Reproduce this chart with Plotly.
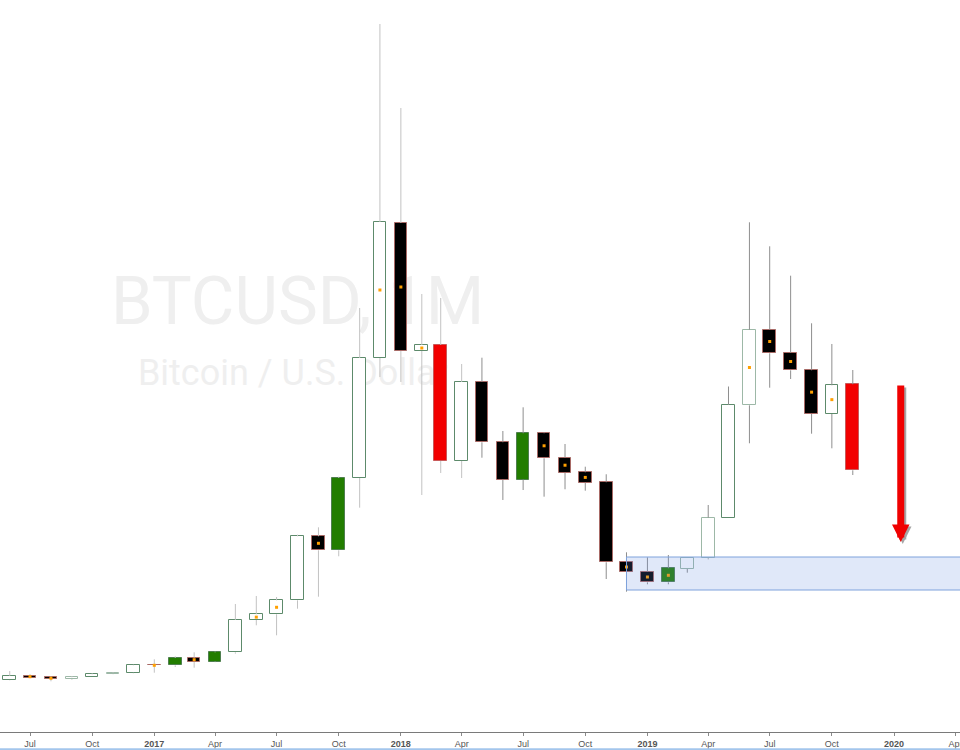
import pandas as pd
import plotly.graph_objects as go

# ---------------- data (monthly BTCUSD candles) ----------------
months = pd.date_range("2016-06-01", periods=42, freq="MS")

open_ = [430, 555, 507, 449, 507, 590, 640,
         862, 859, 1082, 965, 1240, 2188, 2355, 2765, 4642, 4232, 6352, 9871,
         13830, 10076, 10252, 6851, 9167, 7399, 6302, 7663, 6947, 6519, 6226, 3880,
         3604, 3293, 3683, 3997, 5170, 8484, 10701, 10026, 9510, 8229, 9100]
high = [690, 600, 537, 545, 625, 663, 877,
        1035, 1123, 1240, 1258, 2657, 2892, 2862, 4689, 4906, 6390, 11337, 19666,
        17203, 11748, 11631, 9695, 9880, 7730, 8425, 7692, 7349, 6683, 6461, 4173,
        4026, 4094, 4015, 5560, 9035, 13851, 13147, 12285, 10889, 10282, 9519]
low = [420, 480, 390, 428, 507, 584, 625,
       642, 809, 789, 950, 1200, 2032, 1739, 2519, 2871, 4056, 5481, 9314,
       9168, 5853, 6499, 6352, 6947, 5707, 6000, 5804, 6021, 5980, 3390, 3018,
       3235, 3235, 3575, 3968, 5170, 7370, 9000, 9255, 7651, 7223, 6440]
close = [550, 495, 449, 507, 595, 640, 859,
         856, 1073, 965, 1240, 2188, 2355, 2765, 4642, 4232, 6352, 9871, 13859,
         10076, 10252, 6851, 9167, 7399, 6302, 7663, 6930, 6507, 6220, 3880, 3604,
         3293, 3704, 4015, 5188, 8493, 10701, 10009, 9510, 8229, 9071, 6578]

# candle colouring used by the source chart's bar-colour script
candle_kind = ["w", "k", "k", "wl", "w", "wl", "w",
               "k", "g", "k", "g", "w", "w", "w", "w", "k", "g", "w", "w",
               "k", "w", "r", "w", "k", "k", "g", "k", "k", "k", "k", "k",
               "k", "g", "wl", "wl", "w", "wl", "k", "k", "k", "w", "r"]
# orange marker on the candle (1 = shown)
dot_flag = [0, 1, 1, 0, 0, 0, 0,
            1, 0, 1, 0, 0, 1, 1, 0, 1, 0, 0, 1,
            1, 1, 0, 0, 0, 0, 0, 1, 1, 1, 0, 1,
            1, 1, 0, 0, 0, 1, 1, 1, 1, 1, 0]

# support zone and arrow
zone_start = "2018-12-01"
zone_end = "2020-12-01"
zone_low, zone_high = 3067, 4035
arrow_date, arrow_tip_price = "2020-01-11", 4475

# x axis ticks
tick_dates = pd.date_range("2016-07-01", "2020-04-01", freq="3MS")
tick_text = ["Jul", "Oct", "<b>2017</b>", "Apr", "Jul", "Oct", "<b>2018</b>", "Apr",
             "Jul", "Oct", "<b>2019</b>", "Apr", "Jul", "Oct", "<b>2020</b>", "Apr"]

# ---------------- styles ----------------
STYLE = {
    "w": dict(fill="#ffffff", line="#5d8a6b"),
    "wl": dict(fill="#ffffff", line="#9db8a7"),
    "g": dict(fill="#227d00", line="#4f7f4f"),
    "k": dict(fill="#000000", line="#a86a66"),
    "r": dict(fill="#f20000", line="#c85a5a"),
}
BODY_WIDTH_MS = 18.7 * 86400000

fig = go.Figure()

# wicks (two tones), split into upper and lower parts so they never cross a body
split = 23
for lo_i, hi_i, col in [(0, split, "#c2c2c2"), (split, len(months), "#8e8e8e")]:
    xs, ys = [], []
    for i in range(lo_i, hi_i):
        top = max(open_[i], close[i])
        bot = min(open_[i], close[i])
        xs += [months[i], months[i], None, months[i], months[i], None]
        ys += [top, high[i], None, low[i], bot, None]
    fig.add_trace(go.Scatter(x=xs, y=ys, mode="lines",
                             line=dict(color=col, width=1), hoverinfo="skip"))

# bodies
for kind, st in STYLE.items():
    idx = [i for i, k in enumerate(candle_kind) if k == kind]
    if not idx:
        continue
    fig.add_trace(go.Bar(
        x=[months[i] for i in idx],
        y=[abs(close[i] - open_[i]) for i in idx],
        base=[min(close[i], open_[i]) for i in idx],
        width=BODY_WIDTH_MS,
        marker=dict(color=st["fill"], line=dict(color=st["line"], width=1)),
        hoverinfo="skip",
    ))

# orange markers at body centre
didx = [i for i, f in enumerate(dot_flag) if f]
fig.add_trace(go.Scatter(
    x=[months[i] for i in didx],
    y=[(open_[i] + close[i]) / 2 for i in didx],
    mode="markers",
    marker=dict(symbol="square", size=3, color="#ffa000", line=dict(width=0)),
    hoverinfo="skip",
))

# support zone (translucent, above candles)
fig.add_shape(type="rect", xref="x", yref="y",
              x0=zone_start, x1=zone_end, y0=zone_low, y1=zone_high,
              fillcolor="rgba(100,140,225,0.2)",
              line=dict(color="#7ea2dc", width=1), layer="above")

# watermark, drawn below the candles
fig.add_shape(type="rect", xref="paper", yref="paper",
              x0=0.16, x1=0.46, y0=0.555, y1=0.635,
              line=dict(width=0), fillcolor="rgba(0,0,0,0)", layer="below",
              label=dict(text="BTCUSD, 1M", textposition="middle center",
                         font=dict(family="Roboto", size=67, color="#efefef")))
fig.add_shape(type="rect", xref="paper", yref="paper",
              x0=0.155, x1=0.455, y0=0.47, y1=0.52,
              line=dict(width=0), fillcolor="rgba(0,0,0,0)", layer="below",
              label=dict(text="Bitcoin / U.S. Dollar", textposition="middle center",
                         font=dict(family="Roboto", size=36, color="#efefef")))

# thin blue line at the very bottom of the frame
fig.add_shape(type="line", xref="paper", yref="paper",
              x0=0, x1=1, y0=-0.0235, y1=-0.0235,
              line=dict(color="#a3c6ec", width=2))

# red arrow with a soft shadow
fig.add_annotation(x=arrow_date, y=arrow_tip_price, xref="x", yref="y",
                   text="", showarrow=True, ax=0, ay=-158,
                   arrowhead=2, arrowsize=0.5, arrowwidth=7,
                   arrowcolor="rgba(0,0,0,0.35)", xshift=2, yshift=-2)
fig.add_annotation(x=arrow_date, y=arrow_tip_price, xref="x", yref="y",
                   text="", showarrow=True, ax=0, ay=-158,
                   arrowhead=2, arrowsize=0.5, arrowwidth=7,
                   arrowcolor="#f00000")

fig.update_layout(
    width=960, height=750,
    margin=dict(l=0, r=0, t=0, b=18, autoexpand=False),
    paper_bgcolor="white", plot_bgcolor="white",
    showlegend=False, barmode="overlay", bargap=0,
    hovermode=False,
    xaxis=dict(type="date", range=["2016-05-17 14:00", "2020-04-07 17:00"],
               tickvals=list(tick_dates), ticktext=tick_text,
               tickfont=dict(family="Liberation Sans", size=9, color="#555555"),
               ticks="outside", ticklen=3, tickcolor="#8a8a8a", tickwidth=1,
               ticklabeloverflow="allow", automargin=False,
               showline=True, linecolor="#7a7a7a", linewidth=1,
               showgrid=False, zeroline=False, fixedrange=True),
    yaxis=dict(range=[-1097, 20370], visible=False, showgrid=False,
               zeroline=False, fixedrange=True),
)

fig.write_html("out.html", config={"displayModeBar": False},
               post_script="document.body.style.margin='0';document.body.style.overflow='hidden';")
